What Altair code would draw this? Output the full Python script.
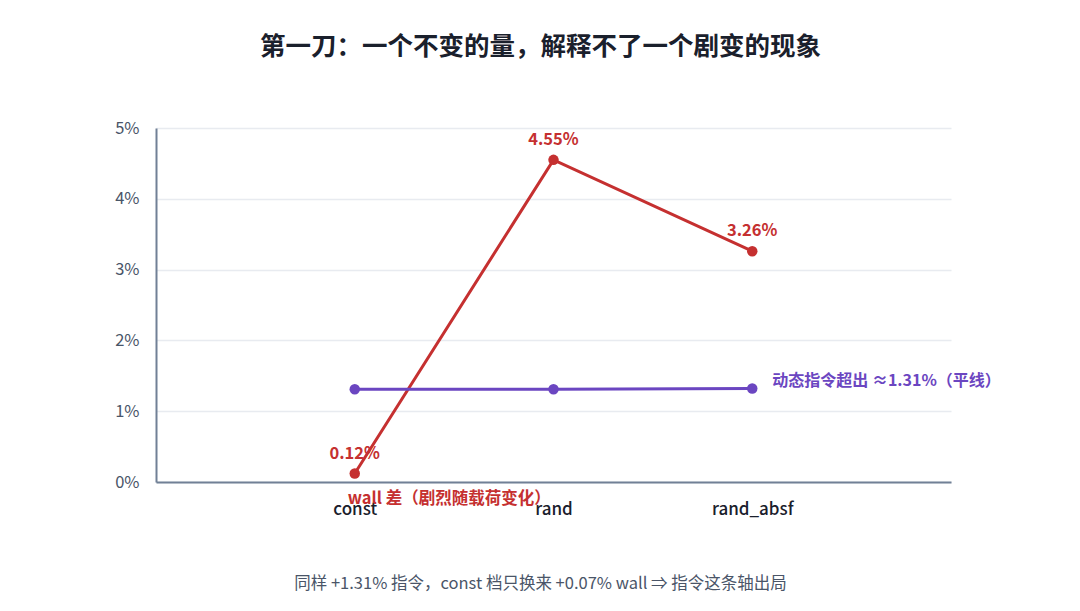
import altair as alt
import pandas as pd

categories = ["const", "rand", "rand_absf"]
wall_pct = [0.12, 4.55, 3.26]
instr_pct = [1.31, 1.31, 1.32]
y_ticks = [0, 1, 2, 3, 4, 5]

title_text = "第一刀：一个不变的量，解释不了一个剧变的现象"
footer_text = "同样 +1.31% 指令，const 档只换来 +0.07% wall ⇒ 指令这条轴出局"
wall_note = "wall 差（剧烈随载荷变化）"
instr_note = "动态指令超出 ≈1.31%（平线）"

RED = "#c53030"
PURPLE = "#6b46c1"
FONT = "Noto Sans CJK SC"

wall = pd.DataFrame({"cat": categories, "v": wall_pct,
                     "label": [f"{v:.2f}%" for v in wall_pct]})
instr = pd.DataFrame({"cat": categories, "v": instr_pct})

x_enc = alt.X(
    "cat:N",
    sort=categories,
    scale=alt.Scale(type="point", padding=1),
    title=footer_text,
    axis=alt.Axis(
        labelAngle=0, labelFontSize=17, labelFontWeight=500, labelColor="#1a202c",
        labelPadding=19, labelFont=FONT, ticks=False, grid=False,
        domainColor="#718096", domainWidth=2,
        titleFont=FONT, titleFontSize=16.5, titleFontWeight="normal", titleColor="#4a5568",
        titleX=384, titleY=101, titleBaseline="middle", titleAlign="center",
    ),
)
y_enc = alt.Y(
    "v:Q",
    scale=alt.Scale(domain=[0, 5]),
    title=None,
    axis=alt.Axis(
        values=y_ticks, labelExpr="datum.value + '%'", labelFontSize=16.5,
        labelColor="#4a5568", labelPadding=17, labelFont=FONT, ticks=False,
        gridColor="#e8ebf0", gridWidth=1.5, domainColor="#718096", domainWidth=2,
    ),
)

wall_line = alt.Chart(wall).mark_line(
    color=RED, strokeWidth=3, point=alt.OverlayMarkDef(color=RED, size=110, opacity=1)
).encode(x=x_enc, y=y_enc)

wall_labels = alt.Chart(wall).mark_text(
    color=RED, fontSize=16.5, fontWeight="bold", dy=-20, font=FONT
).encode(x=alt.X("cat:N", sort=categories), y="v:Q", text="label:N")

instr_line = alt.Chart(instr).mark_line(
    color=PURPLE, strokeWidth=3, point=alt.OverlayMarkDef(color=PURPLE, size=110, opacity=1)
).encode(x=alt.X("cat:N", sort=categories), y="v:Q")

instr_label = alt.Chart(instr.tail(1)).mark_text(
    color=PURPLE, fontSize=16, fontWeight="bold", align="left", dx=20, dy=-8, font=FONT
).encode(x=alt.X("cat:N", sort=categories), y="v:Q", text=alt.value(instr_note))

wall_note_mark = alt.Chart(wall.head(1)).mark_text(
    color=RED, fontSize=16.5, fontWeight="bold", align="left", dx=-7, font=FONT
).encode(x=alt.X("cat:N", sort=categories), y=alt.datum(-0.24), text=alt.value(wall_note))

chart = (
    (wall_line + instr_line + wall_labels + instr_label + wall_note_mark)
    .properties(
        width=795,
        height=354,
        autosize=alt.AutoSizeParams(type="none"),
        padding={"left": 148, "top": 120, "right": 120, "bottom": 110},
        view=alt.ViewBackground(strokeOpacity=0, strokeWidth=0),
        title=alt.TitleParams(
            title_text, fontSize=25.5, fontWeight="bold", color="#1a202c",
            font=FONT, anchor="middle", offset=60, dx=-13,
        ),
    )
    .configure_view(stroke="transparent", strokeWidth=0)
    .configure_axisX(grid=False)
    .configure(background="white")
)

chart.save("out.html", embed_options={"renderer": "svg", "actions": False})
